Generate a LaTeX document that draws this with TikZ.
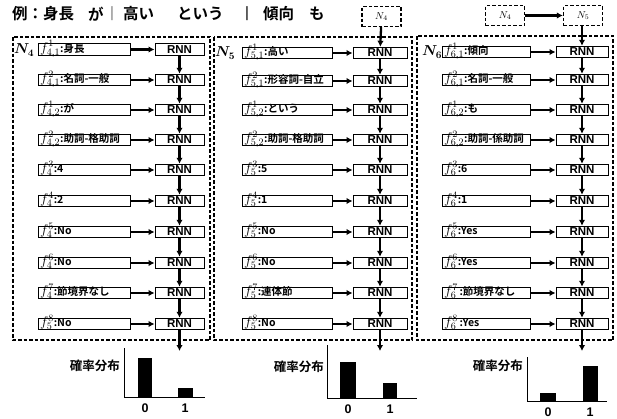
\documentclass[tikz,border=0pt]{standalone}
\usepackage{fix-cm}
\usepackage{fontspec}
\newfontfamily\jp{Noto Sans CJK JP}[BoldFont={Noto Sans CJK JP Bold}]
\newfontfamily\ar{Liberation Sans}
\usetikzlibrary{arrows.meta}
\newcommand\fm[1]{{\fontsize{14}{14}\selectfont$#1$}}
\begin{document}
\begin{tikzpicture}[x=1pt,y=-1pt,
  fbox/.style={draw, line width=1pt, anchor=center, inner xsep=2pt, inner ysep=0.3pt,
    text height=8pt, text depth=3pt, align=left,
    font=\jp\bfseries\fontsize{10.5}{12}\selectfont},
  rnn/.style={draw, line width=1pt, minimum height=11.5pt, inner sep=0pt,
    font=\ar\bfseries\fontsize{11.5}{12}\selectfont},
  arr/.style={-{Latex[length=6pt,width=6.5pt]}, line width=2.3pt},
  panel/.style={draw, line width=1.3pt, dash pattern=on 3.5pt off 2pt},
  topbox/.style={draw, line width=1.3pt, dash pattern=on 3.5pt off 2pt, minimum width=39pt, minimum height=20pt, inner sep=0pt, font=\fontsize{10}{10}\selectfont},
  ttl/.style={anchor=west, inner sep=0pt, font=\jp\bfseries\fontsize{15.5}{16}\selectfont},
  nlab/.style={anchor=west, inner sep=0pt, font=\fontsize{14.4}{15}\selectfont\boldmath},
  clab/.style={anchor=east, inner sep=0pt, font=\jp\bfseries\fontsize{12.5}{13}\selectfont},
  dig/.style={inner sep=0pt, font=\ar\bfseries\fontsize{12.5}{13}\selectfont},
  axis/.style={line width=1pt},
  bar/.style={fill=black, draw=none}
]
\useasboundingbox (0,0) rectangle (617,418);

% title
\node[ttl] (t1) at (12,14) {例：身長};
\node[ttl] (t2) at (88,14) {が};
\node[ttl, text=gray, font=\ar\fontsize{15}{16}\selectfont] (t3) at (110,14) {|};
\node[ttl] (t4) at (123,14) {高い};
\node[ttl] (t5) at (177,14) {という};
\node[ttl, font=\ar\fontsize{15}{16}\selectfont] (t6) at (245,14) {|};
\node[ttl] (t7) at (263,14) {傾向};
\node[ttl] (t8) at (309,14) {も};

% panels
\draw[panel] (13,37) rectangle (210,340);
\draw[panel] (214,37) rectangle (412,340);
\draw[panel] (417,36) rectangle (613,340);

\node[nlab] (NA) at (14,50) {$N_4$};
\node[nlab] (NB) at (215,53) {$N_5$};
\node[nlab] (NC) at (422,52) {$N_6$};

% top boxes
\node[topbox] (top4) at (381.5,16.5) {$N_4$};
\node[topbox] (topr4) at (505,15.5) {$N_4$};
\node[topbox] (topr5) at (583,15.5) {$N_5$};
\draw[arr] (topr4) -- (topr5);

% panel 1
\foreach \i/\y/\t in {
  1/49.5/{\fm{f^{1}_{4,1}}:身長},
  2/80/{\fm{f^{2}_{4,1}}:名詞-一般},
  3/110/{\fm{f^{1}_{4,2}}:が},
  4/140/{\fm{f^{2}_{4,2}}:助詞-格助詞},
  5/170/{\fm{f^{3}_{4}}:4},
  6/201/{\fm{f^{4}_{4}}:2},
  7/232/{\fm{f^{5}_{4}}:No},
  8/263/{\fm{f^{6}_{4}}:No},
  9/293/{\fm{f^{7}_{4}}:節境界なし},
  10/324/{\fm{f^{8}_{5}}:No}}{
  \node[fbox, text width=88pt] (pA\i) at (84,\y) {\t};
  \node[rnn, minimum width=49pt] (rA\i) at (179.5,\y) {RNN};
  \draw[arr] (pA\i) -- (rA\i);
}
% panel 2
\foreach \i/\y/\t in {
  1/53/{\fm{f^{1}_{5,1}}:高い},
  2/81/{\fm{f^{2}_{5,1}}:形容詞-自立},
  3/110/{\fm{f^{1}_{5,2}}:という},
  4/140/{\fm{f^{2}_{5,2}}:助詞-格助詞},
  5/170/{\fm{f^{3}_{5}}:5},
  6/201/{\fm{f^{4}_{5}}:1},
  7/232/{\fm{f^{5}_{5}}:No},
  8/263/{\fm{f^{6}_{5}}:No},
  9/293/{\fm{f^{7}_{5}}:連体節},
  10/324/{\fm{f^{8}_{5}}:No}}{
  \node[fbox, text width=86pt] (pB\i) at (287,\y) {\t};
  \node[rnn, minimum width=54pt] (rB\i) at (380,\y) {RNN};
  \draw[arr] (pB\i) -- (rB\i);
}
% panel 3
\foreach \i/\y/\t in {
  1/52/{\fm{f^{1}_{6,1}}:傾向},
  2/80/{\fm{f^{2}_{6,1}}:名詞-一般},
  3/110/{\fm{f^{1}_{6,2}}:も},
  4/140/{\fm{f^{2}_{6,2}}:助詞-係助詞},
  5/170/{\fm{f^{3}_{6}}:6},
  6/201/{\fm{f^{4}_{6}}:1},
  7/232/{\fm{f^{5}_{6}}:Yes},
  8/263/{\fm{f^{6}_{6}}:Yes},
  9/293/{\fm{f^{7}_{6}}\,:節境界なし},
  10/324/{\fm{f^{8}_{6}}\,:Yes}}{
  \node[fbox, text width=84pt] (pC\i) at (486,\y) {\t};
  \node[rnn, minimum width=52pt] (rC\i) at (582,\y) {RNN};
  \draw[arr] (pC\i) -- (rC\i);
}
\foreach \i in {1,...,9}{
  \pgfmathtruncatemacro\j{\i+1}
  \draw[arr] (rA\i) -- (rA\j);
  \draw[arr] (rB\i) -- (rB\j);
  \draw[arr] (rC\i) -- (rC\j);
}
\draw[arr] (top4) -- (rB1);
\draw[arr] (topr5.south -| rC1) -- (rC1);

% outputs
\coordinate (eA) at (179.5,351);
\coordinate (eB) at (380,351);
\coordinate (eC) at (582,351);
\draw[arr] (rA10) -- (eA);
\draw[arr] (rB10) -- (eB);
\draw[arr] (rC10) -- (eC);

% chart 1
\draw[axis] (124,348) -- (124,397) -- (205,397);
\fill[bar] (138,358) rectangle (152,397);
\fill[bar] (178,388) rectangle (193,397);
\node[clab] (cA) at (120,366) {確率分布};
\node[dig] (zA) at (145,408) {0};
\node[dig] (oA) at (185,408) {1};
% chart 2
\draw[axis] (327,345) -- (327,398) -- (417,398);
\fill[bar] (340,362) rectangle (356,398);
\fill[bar] (383,383) rectangle (397,398);
\node[clab] (cB) at (324,367) {確率分布};
\node[dig] (zB) at (348,409) {0};
\node[dig] (oB) at (390,409) {1};
% chart 3
\draw[axis] (527,357) -- (527,401) -- (607,401);
\fill[bar] (540,393) rectangle (556,401);
\fill[bar] (583,366) rectangle (598,401);
\node[clab] (cC) at (523,366) {確率分布};
\node[dig] (zC) at (548,412) {0};
\node[dig] (oC) at (590,412) {1};
\end{tikzpicture}
\end{document}
